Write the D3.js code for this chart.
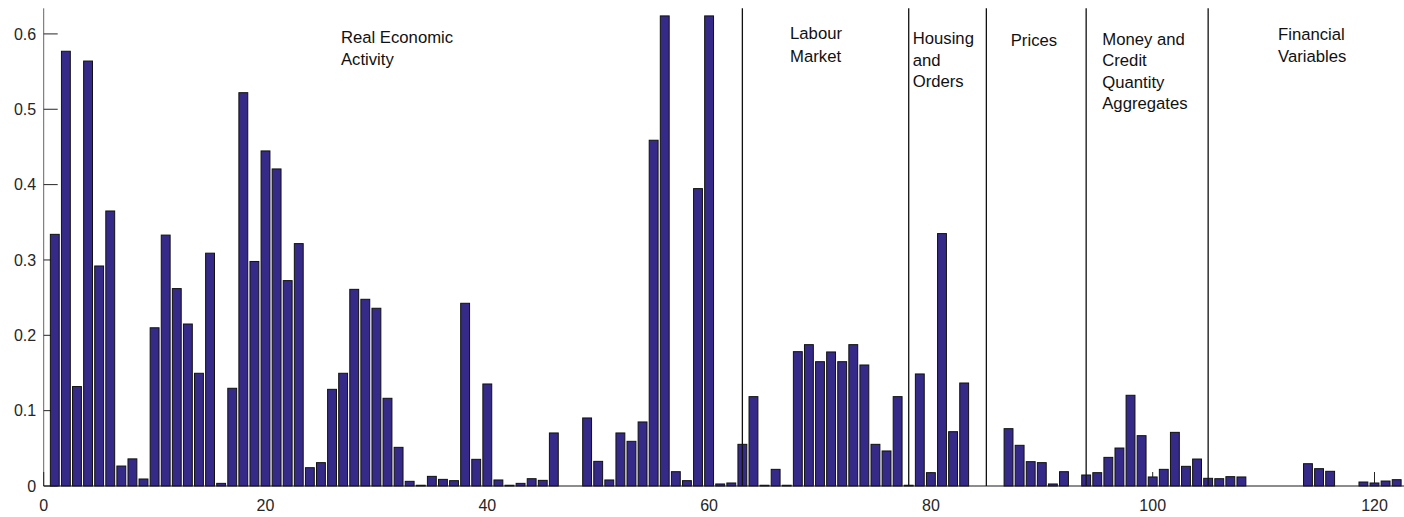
<!DOCTYPE html>
<html>
<head>
<meta charset="utf-8">
<script src="https://cdn.jsdelivr.net/npm/d3@7"></script>
<style>
  html, body { margin: 0; padding: 0; background: #fff; }
  svg { display: block; }
  text { font-family: "Liberation Sans", Arial, Helvetica, sans-serif; }
</style>
</head>
<body>
<svg id="chart" width="1404" height="517"></svg>
<script>
// Weight of each of the 122 indicators, in their order
const values = [
  0.334, 0.577, 0.132, 0.564, 0.292, 0.365, 0.0265, 0.036, 0.0093, 0.210,
  0.333, 0.262, 0.215, 0.1496, 0.309, 0.0035, 0.1297, 0.522, 0.298, 0.4447,
  0.4208, 0.2726, 0.3217, 0.0243, 0.031, 0.1283, 0.1496, 0.261, 0.2478, 0.2359,
  0.1164, 0.0513, 0.0062, 0.001, 0.0128, 0.0088, 0.0071, 0.2425, 0.0354, 0.1354,
  0.008, 0.001, 0.0035, 0.0097, 0.0075, 0.0704, 0, 0, 0.0903, 0.0327,
  0.008, 0.0704, 0.0593, 0.085, 0.4589, 0.6239, 0.019, 0.0071, 0.3947, 0.6239,
  0.0027, 0.004, 0.0553, 0.1186, 0.001, 0.0221, 0.001, 0.1783, 0.1876, 0.165,
  0.1779, 0.165, 0.1876, 0.1606, 0.0553, 0.0465, 0.1186, 0.001, 0.1487, 0.0177,
  0.335, 0.0721, 0.1367, 0, 0, 0, 0.0761, 0.054, 0.0323, 0.031,
  0.0027, 0.019, 0, 0.0146, 0.0177, 0.038, 0.0504, 0.1204, 0.0668, 0.012,
  0.0221, 0.0712, 0.0261, 0.0358, 0.0102, 0.0097, 0.0124, 0.012, 0, 0,
  0, 0, 0, 0.0296, 0.023, 0.0195, 0, 0, 0.0053, 0.004,
  0.0066, 0.0084
];

// Group boundaries (indicator index where a new block starts)
const groupBreaks = [63, 78, 85, 94, 105];

// Group names, one entry per text line
const groupNames = [
  ["Real Economic", "Activity"],
  ["Labour", "Market"],
  ["Housing", "and", "Orders"],
  ["Prices"],
  ["Money and", "Credit", "Quantity", "Aggregates"],
  ["Financial", "Variables"]
];

const xTicks = [0, 20, 40, 60, 80, 100, 120];
const yTicks = [0, 0.1, 0.2, 0.3, 0.4, 0.5, 0.6];

// ---- layout ----
const svg = d3.select("#chart");
const x0 = 43.7, unit = 11.09;
const x = d3.scaleLinear().domain([0, 123]).range([x0, x0 + 123 * unit]);
const y = d3.scaleLinear().domain([0, 0.634]).range([486, 8.3]);
const tickLen = 14;
const barColor = "#352a87";

// label anchors: left edge (data units) and line baselines (px)
const labelPos = [
  { x: 26.8,  lines: [42.7, 65] },
  { x: 67.3,  lines: [39.3, 61.7] },
  { x: 78.36, lines: [44, 65.7, 86.7] },
  { x: 87.2,  lines: [46] },
  { x: 95.45, lines: [45, 65.5, 88, 109.3] },
  { x: 111.3, lines: [40, 61.7] }
];

// y axis line
svg.append("line")
  .attr("x1", x(0)).attr("x2", x(0))
  .attr("y1", y.range()[1]).attr("y2", y(0))
  .attr("stroke", "#555").attr("stroke-width", 0.9);

// y ticks (pointing inward) and labels
const yAxis = svg.append("g");
yAxis.selectAll("line").data(yTicks).join("line")
  .attr("x1", x(0)).attr("x2", x(0) + tickLen)
  .attr("y1", d => y(d)).attr("y2", d => y(d))
  .attr("stroke", "#262626").attr("stroke-width", 1);
yAxis.selectAll("text").data(yTicks).join("text")
  .attr("x", x(0) - 7.5).attr("y", d => y(d))
  .attr("dy", "0.36em")
  .attr("text-anchor", "end")
  .attr("font-size", 16)
  .attr("fill", "#262626")
  .text(d => d3.format("~g")(d));

// x ticks (pointing up) and labels
const xAxis = svg.append("g");
xAxis.selectAll("line").data(xTicks).join("line")
  .attr("x1", d => x(d)).attr("x2", d => x(d))
  .attr("y1", y(0)).attr("y2", y(0) - tickLen)
  .attr("stroke", "#262626").attr("stroke-width", 1);
xAxis.selectAll("text").data(xTicks).join("text")
  .attr("x", d => x(d)).attr("y", 510.8)
  .attr("text-anchor", "middle")
  .attr("font-size", 16)
  .attr("fill", "#262626")
  .text(d => d);

// bars
svg.append("g").selectAll("rect").data(values).join("rect")
  .attr("x", (d, i) => x(i + 1 - 0.4))
  .attr("width", x(0.8) - x(0))
  .attr("y", d => y(d))
  .attr("height", d => y(0) - y(d))
  .attr("fill", barColor)
  .attr("stroke", "#111")
  .attr("stroke-width", 1);

// baseline
svg.append("line")
  .attr("x1", x(0)).attr("x2", 1404)
  .attr("y1", y(0)).attr("y2", y(0))
  .attr("stroke", "#1a1a1a").attr("stroke-width", 1.2);

// group separators
svg.append("g").selectAll("line").data(groupBreaks).join("line")
  .attr("x1", d => x(d)).attr("x2", d => x(d))
  .attr("y1", y.range()[1]).attr("y2", y(0))
  .attr("stroke", "#111").attr("stroke-width", 1.3);

// group names
const labels = svg.append("g");
groupNames.forEach((lines, gi) => {
  lines.forEach((line, li) => {
    labels.append("text")
      .attr("x", x(labelPos[gi].x))
      .attr("y", labelPos[gi].lines[li])
      .attr("font-size", 16.7)
      .attr("fill", "#111")
      .text(line);
  });
});
</script>
</body>
</html>
